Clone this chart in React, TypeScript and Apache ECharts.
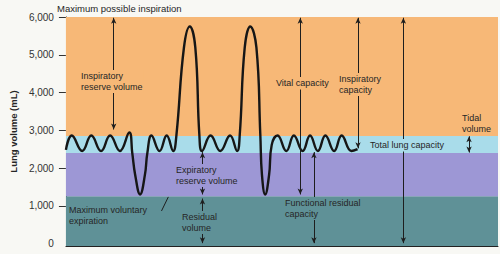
import React, { useEffect, useRef } from "react";
import * as echarts from "echarts";

// ---- data ----
// time (arbitrary units, 0..100 across the plot) and lung volume (mL)
const waveTime = [
  0, 1.35, 3.77, 5.87, 8.13, 10.23, 12.48, 14.67, 15.35, 16.03, 17.16, 18.28, 18.85, 19.8,
  21.67, 23.32, 24.83, 25.58, 27.31, 28.67, 29.95, 30.88, 31.49, 33.48, 35.73, 37.99, 39.62,
  40.23, 41.38, 42.66, 44.09, 44.99, 45.37, 46.12, 47.02, 47.63, 48.98, 51.02, 52.75, 54.79,
  56.5, 58.31, 60.05, 62.08, 63.82, 66.07, 67.49,
];
const waveVolume = [
  2480, 2860, 2450, 2860, 2450, 2860, 2450, 2940, 2400, 1817, 1300, 1817, 2400, 2860,
  2450, 2860, 2450, 2880, 5186, 5750, 5186, 2880, 2450, 2860, 2450, 2860, 2450,
  2880, 5186, 5750, 5186, 2880, 1817, 1300, 1817, 2613, 2860, 2450, 2860, 2450,
  2860, 2450, 2860, 2450, 2860, 2450, 2500,
];
// volume band edges (mL): residual, expiratory reserve, tidal, inspiratory reserve
const bandLower = [-66, 1250, 2400, 2850];
const bandUpper = [1250, 2400, 2850, 6000];
const yTickLabels = [0, 1000, 2000, 3000, 4000, 5000, 6000];
const yTickMarks = [1000, 2000, 3000, 4000, 5000, 6000];
// double-headed arrows: time position, from volume, to volume
const arrowTime = [11.06, 31.6, 31.6, 54.24, 67.6, 57.4, 78.1, 93.3];
const arrowFrom = [5980, 2420, 1190, 5980, 5980, 2420, 5980, 2840];
const arrowTo = [3020, 1300, 10, 1300, 2520, 10, 10, 2410];
// leader line for "Maximum voluntary expiration"
const leaderTime = [22.12, 23.7];
const leaderVolume = [862, 1234];

// ---- styles / layout ----
const FONT = "'Liberation Sans', Arial, Helvetica, sans-serif";
const bandColors = ["#5f9197", "#9d97d5", "#a9dcea", "#f7b877"];
const TEXT = "#262626";

const labels = [
  { t: "Maximum possible inspiration", x: 57, y: 3, size: 9.5 },
  { t: "Inspiratory\nreserve volume", x: 80, y: 70, bg: 3 },
  { t: "Vital capacity", x: 275, y: 77, bg: 3 },
  { t: "Inspiratory\ncapacity", x: 338, y: 73, bg: 3 },
  { t: "Tidal\nvolume", x: 462, y: 113 },
  { t: "Total lung capacity", x: 369, y: 139, bg: 2 },
  { t: "Expiratory\nreserve volume", x: 175, y: 164, bg: 1 },
  { t: "Maximum voluntary\nexpiration", x: 69, y: 205 },
  { t: "Residual\nvolume", x: 181, y: 211, bg: 0 },
  { t: "Functional residual\ncapacity", x: 284, y: 197, bg: 0 },
];

export default function App() {
  const ref = useRef<HTMLDivElement>(null);
  useEffect(() => {
    document.body.style.margin = "0";
    const chart = echarts.init(ref.current!, null, { renderer: "svg" });
    const arrowData: any[] = arrowTime.map((t, i) => [
      { coord: [t, arrowFrom[i]], symbol: "arrow" },
      { coord: [t, arrowTo[i]], symbol: "arrow" },
    ]);
    arrowData.push([
      { coord: [leaderTime[0], leaderVolume[0]], symbol: "none" },
      { coord: [leaderTime[1], leaderVolume[1]], symbol: "none" },
    ]);
    chart.setOption({
      animation: false,
      backgroundColor: "#f8f8f4",
      grid: { left: 54, right: 2, top: 17, bottom: 8 },
      xAxis: {
        type: "value",
        min: 0,
        max: 100,
        axisLine: { onZero: false, lineStyle: { color: "#222", width: 1 } },
        axisTick: { show: false },
        axisLabel: { show: false },
        splitLine: { show: false },
      },
      yAxis: {
        type: "value",
        min: -66,
        max: 6000,
        name: "Lung volume (mL)",
        nameLocation: "middle",
        nameGap: 37,
        nameTextStyle: { fontFamily: FONT, fontSize: 9.5, fontWeight: "bold", color: TEXT },
        axisLine: { show: true, lineStyle: { color: "#222", width: 1 } },
        axisTick: { show: true, length: 7, customValues: yTickMarks, lineStyle: { color: "#333" } },
        axisLabel: {
          customValues: yTickLabels,
          margin: 12,
          fontFamily: FONT,
          fontSize: 10,
          color: "#333",
          formatter: (v: number) => v.toLocaleString("en-US"),
        },
        splitLine: { show: false },
      },
      series: [
        {
          type: "line",
          data: [],
          z: 1,
          silent: true,
          markArea: {
            silent: true,
            data: bandLower.map((lo, i) => [
              { yAxis: lo, itemStyle: { color: bandColors[i], opacity: 1 } },
              { yAxis: bandUpper[i] },
            ]),
          },
        },
        {
          type: "line",
          z: 3,
          silent: true,
          smooth: 0.45,
          symbol: "none",
          data: waveTime.map((t, i) => [t, waveVolume[i]]),
          lineStyle: { color: "#161616", width: 2.4 },
          markLine: {
            silent: true,
            symbol: ["arrow", "arrow"],
            symbolSize: [4, 6],
            label: { show: false },
            emphasis: { disabled: true },
            lineStyle: { color: "#1e1e1e", width: 1, type: "solid" },
            data: arrowData,
          },
        },
      ],
      graphic: labels.map((l) => ({
        type: "text",
        x: l.x,
        y: l.y,
        z: 100,
        silent: true,
        style: {
          text: l.t,
          fontFamily: FONT,
          fontSize: l.size || 9,
          lineHeight: 10.5,
          fill: TEXT,
          verticalAlign: "top",
          align: "left",
          backgroundColor: l.bg !== undefined ? bandColors[l.bg] : undefined,
          padding: l.bg !== undefined ? [1, 1] : 0,
        },
      })),
    });
    return () => chart.dispose();
  }, []);
  return (
    <div
      ref={ref}
      style={{ position: "fixed", left: 0, top: 0, width: 500, height: 254 }}
    />
  );
}
